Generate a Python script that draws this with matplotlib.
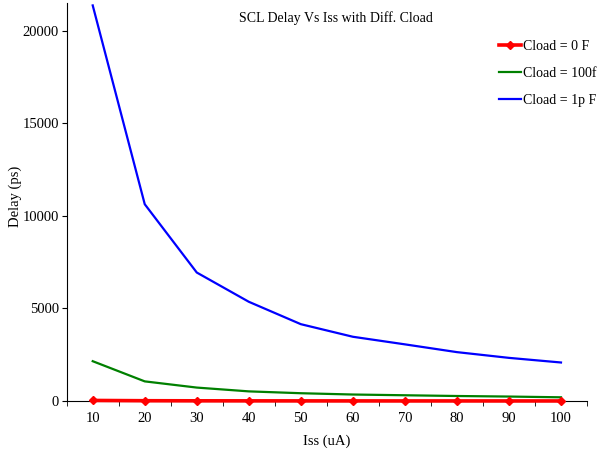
import matplotlib
matplotlib.use("Agg")
import matplotlib.pyplot as plt
from matplotlib.ticker import FixedLocator, NullFormatter

plt.rcParams['font.family'] = ['Liberation Serif', 'DejaVu Serif']

# bias current sweep (uA) and delay (ps) for each load
iss = [10, 20, 30, 40, 50, 60, 70, 80, 90, 100]
delay_0f = [30, 15, 10, 8, 6, 5, 4, 4, 3, 3]
delay_100f = [2150, 1060, 725, 520, 420, 350, 310, 270, 240, 200]
delay_1p = [21370, 10630, 6940, 5360, 4150, 3470, 3060, 2640, 2330, 2080]
labels = ['Cload = 0 F', 'Cload = 100f F', 'Cload = 1p F']

fig = plt.figure(figsize=(5.99, 4.49), dpi=100)
ax = fig.add_axes([66.7 / 599, 48 / 449, (587 - 66.7) / 599, (401 - 3) / 449])

ax.plot(iss, delay_0f, color='#ff0000', lw=2.6, marker='D', ms=4.5,
        clip_on=False, zorder=4, label=labels[0])
ax.plot(iss, delay_100f, color='#008000', lw=1.6, label=labels[1])
ax.plot(iss, delay_1p, color='#0000ff', lw=1.6, label=labels[2])

ax.set_xlim(5, 105)
ax.set_ylim(0, 21500)
ax.set_xticks(iss)
ax.xaxis.set_minor_locator(FixedLocator(range(5, 106, 10)))
ax.xaxis.set_minor_formatter(NullFormatter())
ax.set_yticks([0, 5000, 10000, 15000, 20000])
ax.tick_params(axis='x', which='major', length=0, pad=8, labelsize=10.5)
ax.tick_params(axis='x', which='minor', length=3.5, direction='out')
ax.tick_params(axis='y', length=3.5, direction='out', labelsize=10.5, pad=2)

for side in ('top', 'right'):
    ax.spines[side].set_visible(False)

ax.set_xlabel('Iss (uA)', fontsize=10.5, labelpad=7)
ax.set_ylabel('Delay (ps)', fontsize=10.5)
ax.yaxis.set_label_coords(-0.085, 0.515)

fig.text(336 / 599, 1 - 18 / 449, 'SCL Delay Vs Iss with Diff. Cload',
         ha='center', va='center', fontsize=10)

ax.legend(loc='upper left', bbox_to_anchor=(499 / 599, 1 - 40 / 449),
          bbox_transform=fig.transFigure, frameon=False, fontsize=10,
          borderpad=0, borderaxespad=0, handlelength=1.6, handletextpad=0.15,
          labelspacing=1.0)

fig.savefig('out.png', dpi=100)
